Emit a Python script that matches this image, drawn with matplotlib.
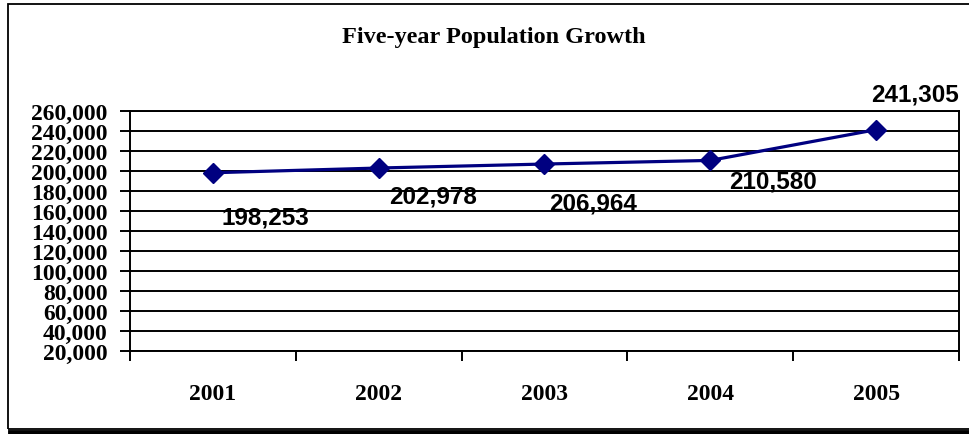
import matplotlib
matplotlib.use("Agg")
import matplotlib.pyplot as plt
from matplotlib.patches import Rectangle
from matplotlib.lines import Line2D
from matplotlib.ticker import FuncFormatter, FixedLocator

years = ["2001", "2002", "2003", "2004", "2005"]
population = [198253, 202978, 206964, 210580, 241305]
label_offsets_pt = [(38, -32), (39, -20), (35, -28), (45, -15), (28, 26)]
y_ticks = list(range(20000, 260001, 20000))
title = "Five-year Population Growth"

fig = plt.figure(figsize=(9.7, 4.35), dpi=100)
ax = fig.add_axes([130/970, 1-352/435, (959-130)/970, (352-112)/435])

x = list(range(len(years)))
ax.plot(x, population, color="#000080", lw=2.3, marker="D", markersize=10,
        markerfacecolor="#000080", markeredgecolor="#000080", zorder=5, clip_on=False)

ax.set_xlim(-0.5, len(years) - 0.5)
ax.set_ylim(20000, 260000)
ax.set_yticks(y_ticks)
ax.yaxis.set_major_formatter(FuncFormatter(lambda v, p: f"{int(v):,}"))
ax.grid(axis="y", color="black", lw=1.4)
ax.set_axisbelow(True)

ax.set_xticks(x)
ax.set_xticklabels(years)
ax.xaxis.set_minor_locator(FixedLocator([i - 0.5 for i in range(len(years) + 1)]))
ax.tick_params(axis="x", which="major", length=0, pad=23)
ax.tick_params(axis="x", which="minor", length=7, width=1.4, direction="out")
ax.tick_params(axis="y", which="major", length=7, width=1.4, direction="out", pad=9)

for lab in ax.get_xticklabels() + ax.get_yticklabels():
    lab.set_fontfamily("Liberation Serif")
    lab.set_fontweight("bold")
    lab.set_fontsize(17)

for s in ["left", "bottom", "right", "top"]:
    ax.spines[s].set_linewidth(1.4)
    ax.spines[s].set_color("black")

for xi, val, off in zip(x, population, label_offsets_pt):
    ax.annotate(f"{val:,}", (xi, val), xytext=off, textcoords="offset points",
                ha="center", va="center", fontfamily="Liberation Sans",
                fontweight="bold", fontsize=17.5, zorder=6)

fig.text(494/970, 1-38/435, title, ha="center", va="center",
         fontfamily="Liberation Serif", fontweight="bold", fontsize=17.5)

# chart frame with shadow
fig.add_artist(Rectangle((8/970, 1-430/435), 1.0, (430-5)/435, transform=fig.transFigure,
                         fill=False, edgecolor="black", lw=1.3))
fig.add_artist(Line2D([10/970, 1.0], [1-433/435, 1-433/435], transform=fig.transFigure,
                      color="black", lw=3.5))

fig.savefig("out.png", dpi=100)
